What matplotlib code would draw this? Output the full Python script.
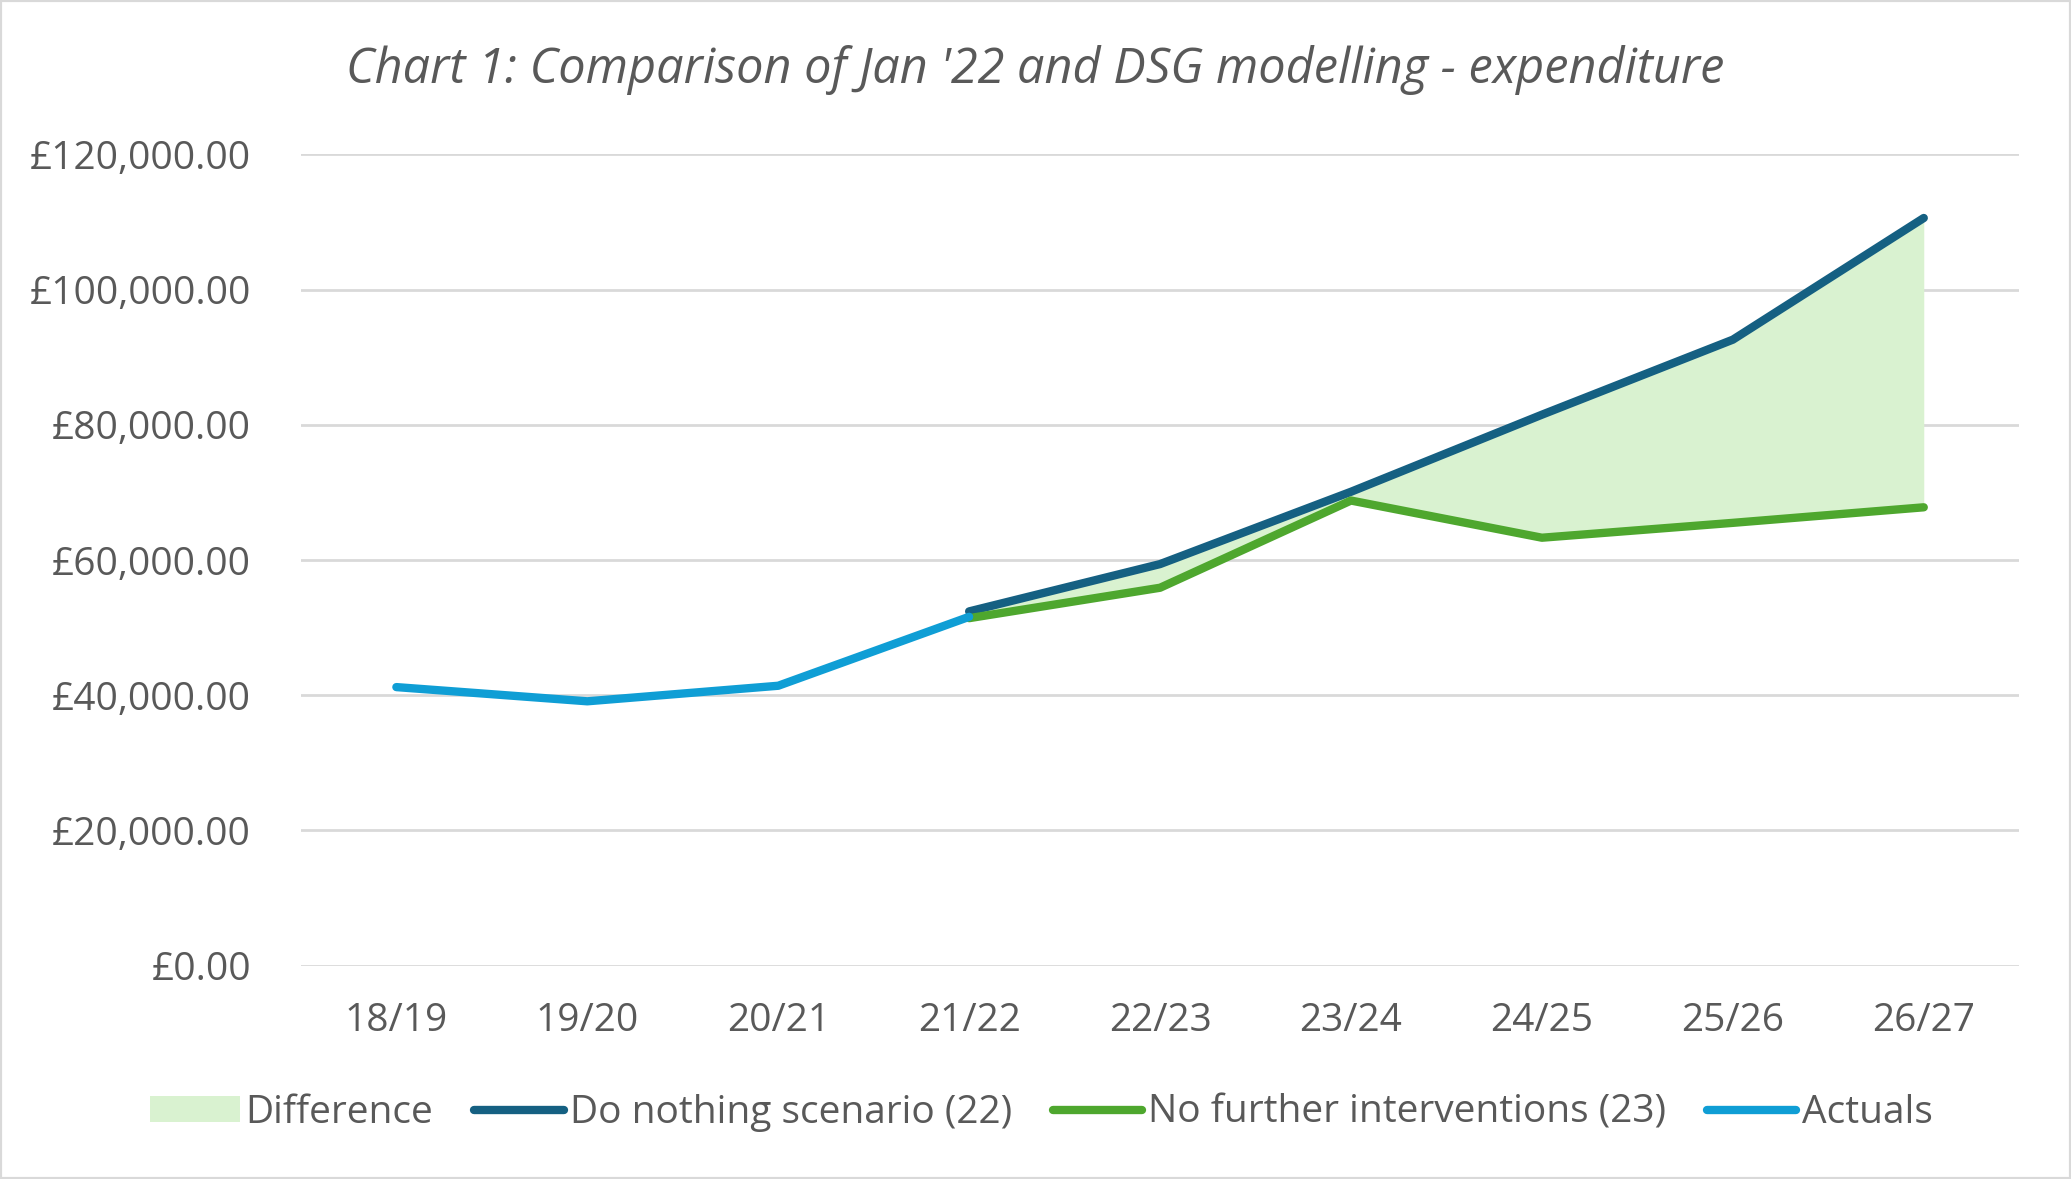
import matplotlib
matplotlib.use("Agg")
import matplotlib.pyplot as plt
import numpy as np
from matplotlib.lines import Line2D
from matplotlib.patches import Patch, Rectangle
from matplotlib.ticker import FuncFormatter

years = ["18/19", "19/20", "20/21", "21/22", "22/23", "23/24", "24/25", "25/26", "26/27"]
actuals = [41200, 39100, 41400, 51600, None, None, None, None, None]
do_nothing = [None, None, None, 52400, 59400, 70100, 81500, 92600, 110600]
no_further = [None, None, None, 51400, 55900, 68800, 63300, 65500, 67800]
yticks = [0, 20000, 40000, 60000, 80000, 100000, 120000]

title = "Chart 1: Comparison of Jan '22 and DSG modelling - expenditure"
text_color = "#595959"
c_do = "#156082"
c_nf = "#4EA72E"
c_act = "#0F9ED5"
c_fill = "#D9F2D0"

plt.rcParams['font.family'] = ['Open Sans', 'DejaVu Sans']

fig = plt.figure(figsize=(20.71, 11.79), dpi=100)
ax = fig.add_axes([0.1453, 0.181, 0.975 - 0.1453, 0.869 - 0.181])

x = np.arange(len(years))

def arr(v):
    return np.array([np.nan if a is None else a for a in v], dtype=float)

a_act, a_do, a_nf = arr(actuals), arr(do_nothing), arr(no_further)
mask = ~np.isnan(a_do) & ~np.isnan(a_nf)
ax.fill_between(x[mask], a_nf[mask], a_do[mask], color=c_fill, lw=0, zorder=1)

lw = 6.0
ax.plot(x, a_do, color=c_do, lw=lw, solid_capstyle='round', solid_joinstyle='round', zorder=3)
ax.plot(x, a_nf, color=c_nf, lw=lw, solid_capstyle='round', solid_joinstyle='round', zorder=4)
ax.plot(x, a_act, color=c_act, lw=lw, solid_capstyle='round', solid_joinstyle='round', zorder=5)

ax.set_xlim(-0.5, len(years) - 0.5)
ax.set_ylim(0, 120000)
ax.set_yticks(yticks)
ax.yaxis.set_major_formatter(FuncFormatter(lambda v, p: "£{:,.2f}".format(v)))
ax.set_xticks(x)
ax.set_xticklabels(years)
ax.grid(axis='y', color='#D9D9D9', lw=2, zorder=0)
ax.set_axisbelow(True)
for s in ax.spines.values():
    s.set_visible(False)
ax.tick_params(axis='both', length=0, labelsize=28, labelcolor=text_color)
ax.tick_params(axis='y', pad=36)
ax.tick_params(axis='x', pad=26)

fig.text(0.5, 0.941, title, ha='center', va='center', fontsize=35, style='italic', color=text_color)

handles = [
    Patch(facecolor=c_fill, edgecolor='none'),
    Line2D([], [], color=c_do, lw=lw, solid_capstyle='round'),
    Line2D([], [], color=c_nf, lw=lw, solid_capstyle='round'),
    Line2D([], [], color=c_act, lw=lw, solid_capstyle='round'),
]
labels = ["Difference", "Do nothing scenario (22)", "No further interventions (23)", "Actuals"]
fig.legend(handles, labels, loc='center', bbox_to_anchor=(0.503, 0.056), ncol=4, frameon=False,
           fontsize=28, labelcolor=text_color, handlelength=2.3, handleheight=0.65,
           handletextpad=0.15, columnspacing=1.05)

fig.patches.append(Rectangle((0, 0), 1, 1, transform=fig.transFigure, fill=False,
                             edgecolor='#D9D9D9', lw=3, zorder=10))

fig.savefig("out.png", dpi=100, facecolor='white')
